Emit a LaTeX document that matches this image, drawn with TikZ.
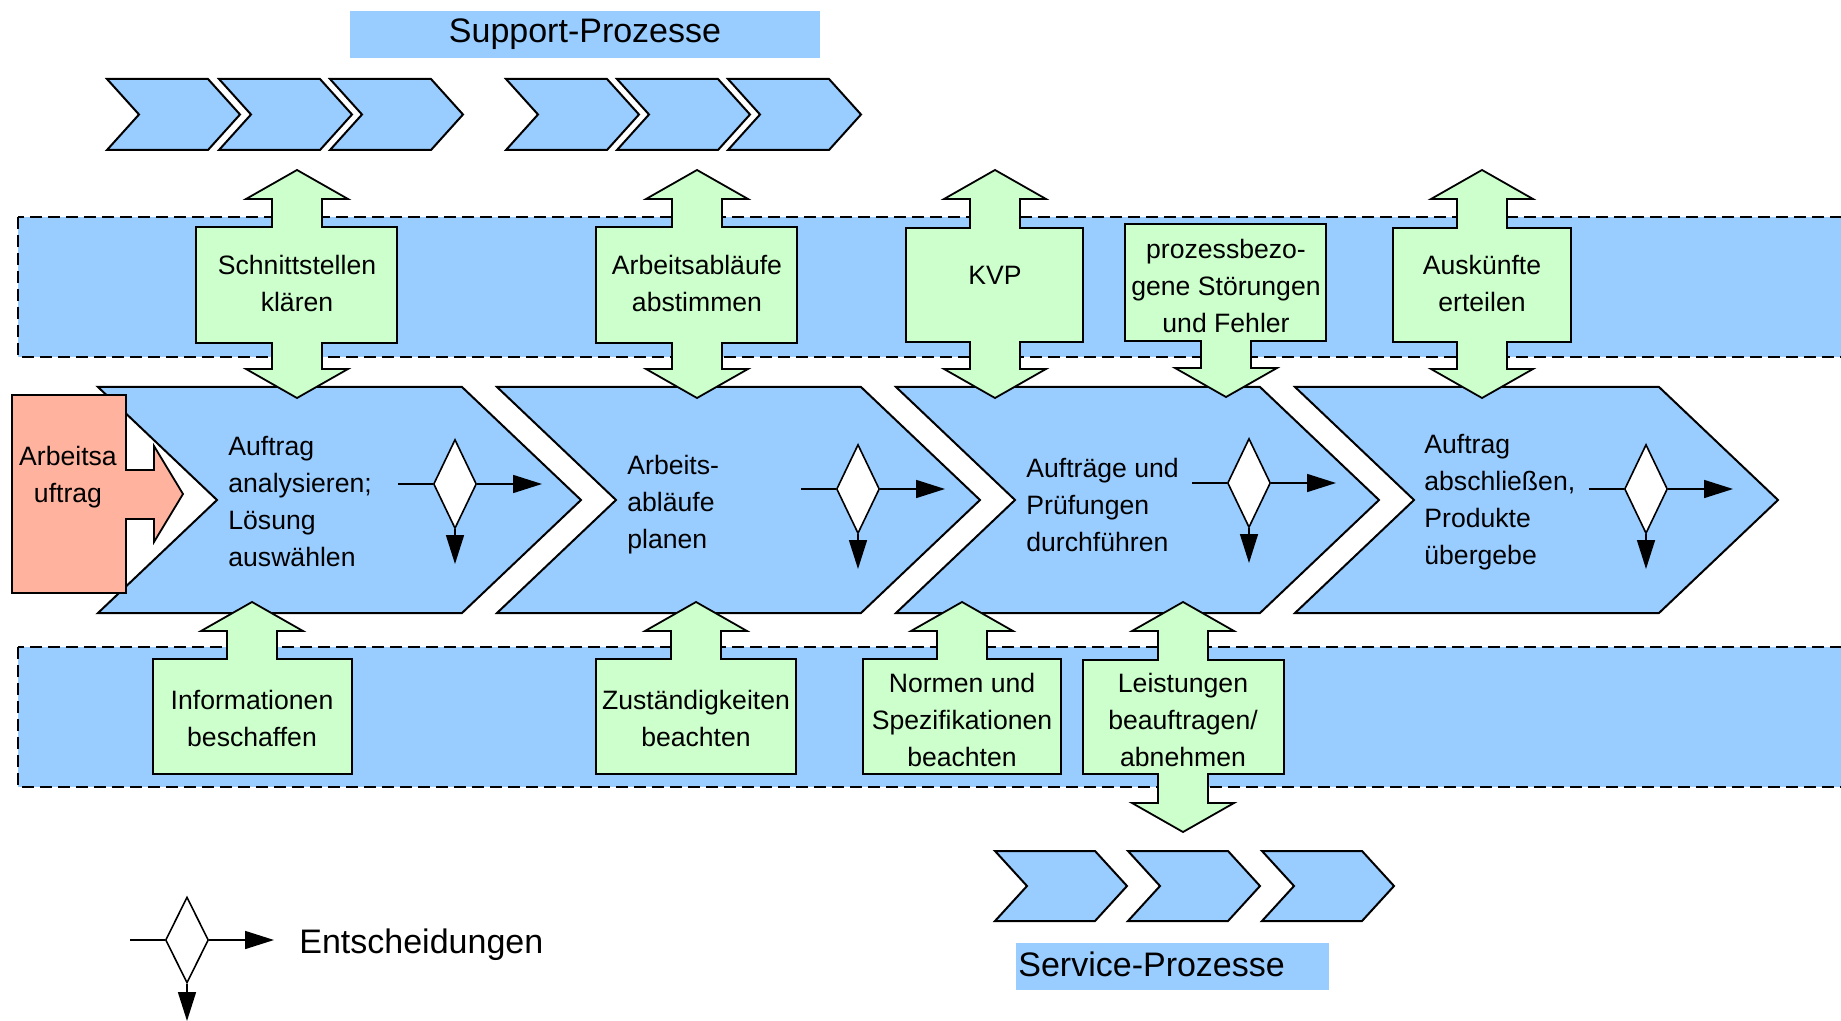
\documentclass[tikz,border=0pt]{standalone}
\usepackage{fontspec}
\setmainfont{Liberation Sans}
\usetikzlibrary{arrows.meta,shapes.geometric}

\definecolor{procblue}{RGB}{153,204,255}
\definecolor{callgreen}{RGB}{204,255,204}
\definecolor{ordersalmon}{RGB}{255,178,158}

% arrow pieces of the green callouts (centre, edge, tip)
\newcommand{\calloutup}[3]{-- ({#1-25},#2) -- ({#1-25},{#3+29}) -- ({#1-51},{#3+29}) -- (#1,#3) -- ({#1+51},{#3+29}) -- ({#1+25},{#3+29}) -- ({#1+25},#2)}
\newcommand{\calloutdown}[3]{-- ({#1+25},#2) -- ({#1+25},{#3-29}) -- ({#1+51},{#3-29}) -- (#1,#3) -- ({#1-51},{#3-29}) -- ({#1-25},{#3-29}) -- ({#1-25},#2)}

\begin{document}
\begin{tikzpicture}[x=0.5pt,y=-0.5pt,line join=miter,
    band/.style={fill=procblue,draw=black,line width=1pt,dash pattern=on 6pt off 3pt},
    mainchev/.style={fill=procblue,draw=black,line width=1pt},
    smallchev/.style={fill=procblue,draw=black,line width=1pt},
    callout/.style={fill=callgreen,draw=black,line width=0.9pt},
    boxtext/.style={align=center,inner sep=0pt,font=\fontsize{13.3}{18.5}\selectfont},
    chevtext/.style={align=left,anchor=west,inner sep=0pt,font=\fontsize{13.3}{18.5}\selectfont},
    decision/.style={diamond,draw=black,fill=white,line width=0.8pt,inner sep=0pt,minimum width=21.5pt,minimum height=44.5pt},
    flow/.style={line width=0.8pt,-{Triangle[length=14.5pt,width=9pt]}},
    bigtext/.style={inner sep=0pt,font=\fontsize{17}{20}\selectfont}]
  \useasboundingbox (0,0) rectangle (1841,1021);

  % Baender
  \draw[band] (18,217) rectangle (1870,357);
  \draw[band] (18,647) rectangle (1870,787);

  % Support- und Service-Prozesse
  \fill[procblue] (350,11) rectangle (820,58);
  \node[bigtext] (support) at (585,34) {Support-Prozesse};
  \foreach \x in {107,219,330,506,617,728}
    \draw[smallchev] (\x,79) -- ++(101,0) -- ++(32,35.5) -- ++(-32,35.5) -- ++(-101,0) -- ++(32,-35.5) -- cycle;
  \foreach \x in {995,1128,1262}
    \draw[smallchev] (\x,851) -- ++(100,0) -- ++(32,35) -- ++(-32,35) -- ++(-100,0) -- ++(32,-35) -- cycle;
  \fill[procblue] (1016,943) rectangle (1329,990);
  \node[bigtext,anchor=west] (service) at (1018,964) {Service-Prozesse};

  % Prozesskette
  \foreach \x in {98,497,896,1295}
    \draw[mainchev] (\x,387) -- ++(364,0) -- ++(119,113) -- ++(-119,113) -- ++(-364,0) -- ++(119,-113) -- cycle;
  \node[chevtext] (c1) at (228,502) {Auftrag\\analysieren;\\Lösung\\auswählen};
  \node[chevtext] (c2) at (627,505) {Arbeits-\\abläufe\\planen};
  \node[chevtext] (c3) at (1026,505) {Aufträge und\\Prüfungen\\durchführen};
  \node[chevtext] (c4) at (1424,502) {Auftrag\\abschließen,\\Produkte\\übergebe};

  % Entscheidungen
  \node[decision] (d1) at (455,484) {};
  \coordinate (d1in) at (398,484);
  \coordinate (d1out) at (542,484);
  \coordinate (d1down) at (455,564);
  \node[decision] (d2) at (858,489) {};
  \coordinate (d2in) at (801,489);
  \coordinate (d2out) at (945,489);
  \coordinate (d2down) at (858,569);
  \node[decision] (d3) at (1249,483) {};
  \coordinate (d3in) at (1192,483);
  \coordinate (d3out) at (1336,483);
  \coordinate (d3down) at (1249,563);
  \node[decision] (d4) at (1646,489) {};
  \coordinate (d4in) at (1589,489);
  \coordinate (d4out) at (1733,489);
  \coordinate (d4down) at (1646,569);
  \foreach \d in {d1,d2,d3,d4} {
    \draw[line width=0.8pt] (\d in) -- (\d.west);
    \draw[flow] (\d.east) -- (\d out);
    \draw[flow] (\d.south) -- (\d down);
  }

  % obere Hinweise
  \draw[callout] (196,227) \calloutup{297}{227}{170} -- (397,227) -- (397,343) \calloutdown{297}{343}{398} -- (196,343) -- cycle;
  \node[boxtext] (schnitt) at (297,283) {Schnittstellen\\klären};
  \draw[callout] (596,227) \calloutup{697}{227}{170} -- (797,227) -- (797,343) \calloutdown{697}{343}{398} -- (596,343) -- cycle;
  \node[boxtext] (arbabl) at (697,283) {Arbeitsabläufe\\abstimmen};
  \draw[callout] (906,228) \calloutup{995}{228}{170} -- (1083,228) -- (1083,342) \calloutdown{995}{342}{398} -- (906,342) -- cycle;
  \node[boxtext] (kvp) at (995,275) {KVP};
  \draw[callout] (1125,224) -- (1326,224) -- (1326,341) \calloutdown{1226}{341}{397} -- (1125,341) -- cycle;
  \node[boxtext] (stoer) at (1226,286) {prozessbezo-\\gene Störungen\\und Fehler};
  \draw[callout] (1393,228) \calloutup{1482}{228}{170} -- (1571,228) -- (1571,342) \calloutdown{1482}{342}{398} -- (1393,342) -- cycle;
  \node[boxtext] (ausk) at (1482,283) {Auskünfte\\erteilen};

  % untere Hinweise
  \draw[callout] (153,659) \calloutup{252}{659}{602} -- (352,659) -- (352,774) -- (153,774) -- cycle;
  \node[boxtext] (info) at (252,718) {Informationen\\beschaffen};
  \draw[callout] (596,659) \calloutup{696}{659}{602} -- (796,659) -- (796,774) -- (596,774) -- cycle;
  \node[boxtext] (zust) at (696,718) {Zuständigkeiten\\beachten};
  \draw[callout] (863,659) \calloutup{962}{659}{602} -- (1061,659) -- (1061,774) -- (863,774) -- cycle;
  \node[boxtext] (normen) at (962,720) {Normen und\\Spezifikationen\\beachten};
  \draw[callout] (1083,660) \calloutup{1183}{660}{602} -- (1284,660) -- (1284,774) \calloutdown{1183}{774}{832} -- (1083,774) -- cycle;
  \node[boxtext] (leist) at (1183,720) {Leistungen\\beauftragen/\\abnehmen};

  % Arbeitsauftrag
  \draw[fill=ordersalmon,draw=black,line width=0.9pt] (12,395) -- (126,395) -- (126,470) -- (154,470) -- (154,446) -- (183,494) -- (154,542) -- (154,519) -- (126,519) -- (126,593) -- (12,593) -- cycle;
  \node[boxtext] (auftrag) at (68,477) {Arbeitsa\\uftrag};

  % Legende
  \node[decision,minimum height=43pt] (dleg) at (187,940) {};
  \coordinate (dlegin) at (130,940);
  \coordinate (dlegout) at (274,940);
  \coordinate (dlegdown) at (187,1021);
  \draw[line width=0.8pt] (dlegin) -- (dleg.west);
  \draw[flow] (dleg.east) -- (dlegout);
  \draw[flow] (dleg.south) -- (dlegdown);
  \node[bigtext,anchor=base west] (legend) at (299,953) {Entscheidungen};
\end{tikzpicture}
\end{document}
